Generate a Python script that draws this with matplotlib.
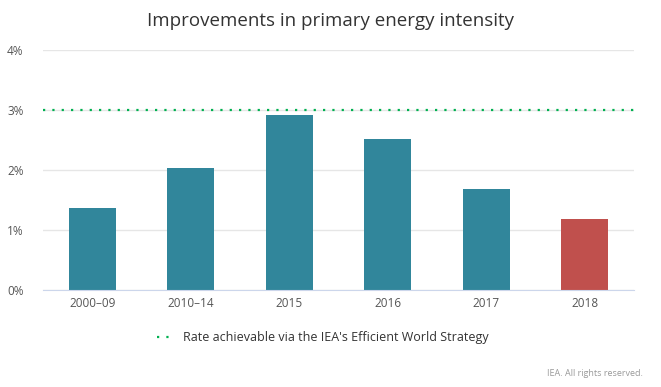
import matplotlib.pyplot as plt
import numpy as np

plt.rcParams['font.family'] = ['Open Sans', 'DejaVu Sans']

categories = ['2000\u201309', '2010\u201314', '2015', '2016', '2017', '2018']
values = [1.36, 2.04, 2.91, 2.51, 1.69, 1.19]
target = 3.0
yticks = [0, 1, 2, 3, 4]

teal = '#31869b'
red = '#c0504d'
green = '#00b050'
colors = [teal] * 5 + [red]

fig = plt.figure(figsize=(6.61, 3.87), dpi=100)
ax = fig.add_axes([0.065, 0.2506, 0.894, 0.6204])

x = np.arange(len(categories))
ax.bar(x, values, width=0.48, color=colors, zorder=2)
line, = ax.plot([-0.5, len(categories) - 0.5], [target, target], color=green,
                lw=1.6, dashes=(1, 3.2), zorder=3,
                label="Rate achievable via the IEA's Efficient World Strategy")

ax.set_xlim(-0.5, len(categories) - 0.5)
ax.set_ylim(0, 4)
ax.set_yticks(yticks)
ax.set_yticklabels([f'{t}%' for t in yticks])
ax.set_xticks(x)
ax.set_xticklabels(categories)
ax.grid(axis='y', color='#e6e6e6', lw=1, zorder=0)
ax.set_axisbelow(True)
for s in ['top', 'right', 'left']:
    ax.spines[s].set_visible(False)
ax.spines['bottom'].set_color('#ccd6eb')
ax.tick_params(axis='both', length=0, labelsize=8.5, colors='#555555')
ax.tick_params(axis='x', pad=5)
ax.tick_params(axis='y', pad=14)

fig.text(0.5, 0.945, 'Improvements in primary energy intensity', ha='center',
         va='center', fontsize=13.5, color='#333333')
fig.legend(handles=[line], loc='center', bbox_to_anchor=(0.488, 0.127),
           frameon=False, fontsize=9, handlelength=1.1, handletextpad=1.0,
           labelcolor='#333333')
fig.text(0.972, 0.036, 'IEA. All rights reserved.', ha='right', va='center',
         fontsize=6.5, color='#999999')

fig.savefig('out.png', dpi=100)
